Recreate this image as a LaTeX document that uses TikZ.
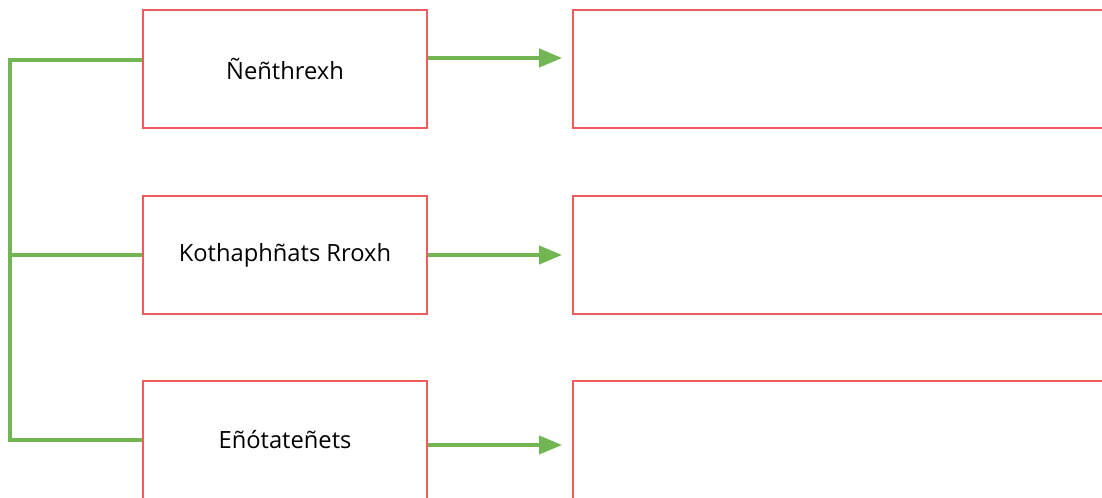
\documentclass[tikz,border=0pt]{standalone}
\usepackage{fontspec}
\setmainfont{Open Sans}
\usepackage{xcolor}
\usetikzlibrary{calc,positioning,arrows.meta}

\definecolor{boxred}{HTML}{EF5A5E}
\definecolor{linkgreen}{HTML}{72B553}

\begin{document}
\begin{tikzpicture}[x=0.02cm, y=-0.02cm,
	box/.style={draw=boxred, line width=1.1pt, minimum height=2.36cm, inner sep=0pt, font=\fontsize{13.5}{16}\selectfont},
	leftbox/.style={box, minimum width=5.68cm},
	rightbox/.style={box, minimum width=11.6cm},
	link/.style={draw=linkgreen, line width=2.3pt},
	arrow/.style={link, shorten >=0.2cm, -{Triangle[length=0.46cm, width=0.36cm]}}]
	\useasboundingbox (0,0) rectangle (1102,497);
	\clip (0,0) rectangle (1102,497);

	\node (l1) at (285,69) [leftbox] {Ñeñthrexh};
	\node (l2) at (285,255) [leftbox] {Kothaphñats Rroxh};
	\node (l3) at (285,440) [leftbox] {Eñótateñets};

	\node (r1) at (863,69) [rightbox] {};
	\node (r2) at (863,255) [rightbox] {};
	\node (r3) at (863,440) [rightbox] {};

	% trunk on the left
	\coordinate (t1) at (10,60);
	\coordinate (t3) at (10,440);
	\draw[link] ($(l1.west)+(0,-9)$) -- (t1) -- (t3) -- (l3.west);
	\draw[link] (t1 |- l2.west) -- (l2.west);

	\draw[arrow] ($(l1.east)+(0,-11)$) -- ($(r1.west)+(0,-11)$);
	\draw[arrow] (l2.east) -- (r2.west);
	\draw[arrow] ($(l3.east)+(0,5)$) -- ($(r3.west)+(0,5)$);
\end{tikzpicture}
\end{document}
